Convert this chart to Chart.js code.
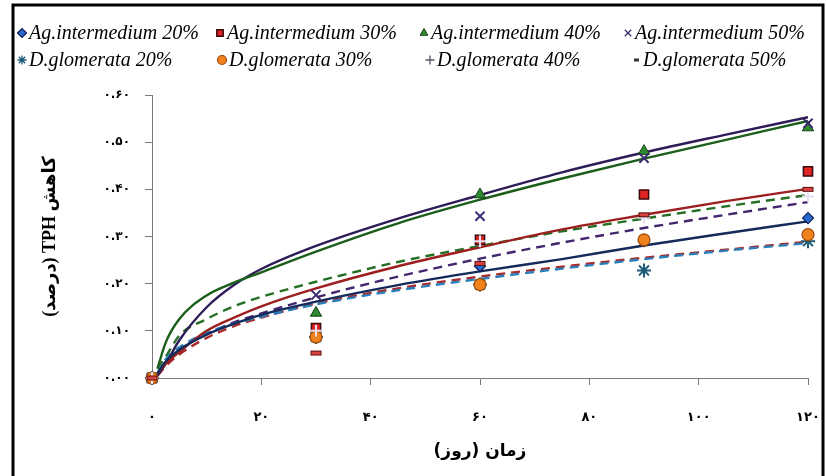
<!DOCTYPE html>
<html>
<head>
<meta charset="utf-8">
<script src="https://cdn.jsdelivr.net/npm/chart.js@4.4.1/dist/chart.umd.min.js"></script>
<style>
  html, body { margin: 0; padding: 0; background: #fff; }
  #wrap { width: 826px; height: 476px; }
</style>
</head>
<body>
<div id="wrap"><canvas id="chart" width="826" height="476"></canvas></div>
<script>
// days of sampling and the x positions where the fitted curves were read
const days = [0, 30, 60, 90, 120];
const trendDays = [1, 2.5, 5, 10, 15, 20, 30, 45, 60, 75, 90, 105, 120];

const names = ['Ag.intermedium 20%', 'Ag.intermedium 30%', 'Ag.intermedium 40%', 'Ag.intermedium 50%',
  'D.glomerata 20%', 'D.glomerata 30%', 'D.glomerata 40%', 'D.glomerata 50%'];

// measured points
const agInt20 = [0, 0.100, 0.237, 0.290, 0.339];
const agInt30 = [0, 0.106, 0.293, 0.389, 0.438];
const agInt40 = [0, 0.138, 0.389, 0.481, 0.531];
const agInt50 = [0, 0.176, 0.343, 0.466, 0.540];
const dGlo20 = [0, 0.087, 0.198, 0.228, 0.290];
const dGlo30 = [0, 0.087, 0.198, 0.293, 0.304];
const dGlo40 = [0, 0.100, 0.290, 0.340, 0.385];
const dGlo50 = [0, 0.053, 0.243, 0.346, 0.400];

// fitted trend curves
const agInt20Trend = [0.010, 0.035, 0.060, 0.092, 0.115, 0.134, 0.162, 0.197, 0.226, 0.252, 0.281, 0.307, 0.332];
const agInt30Trend = [0.010, 0.030, 0.055, 0.100, 0.128, 0.152, 0.190, 0.237, 0.277, 0.315, 0.346, 0.375, 0.401];
const agInt40Trend = [0.020, 0.075, 0.125, 0.175, 0.202, 0.224, 0.268, 0.328, 0.378, 0.423, 0.465, 0.505, 0.545];
const agInt50Trend = [0.005, 0.030, 0.080, 0.150, 0.197, 0.231, 0.280, 0.338, 0.388, 0.436, 0.478, 0.516, 0.553];
const dGlo20Trend = [0.010, 0.040, 0.065, 0.096, 0.115, 0.130, 0.156, 0.186, 0.210, 0.232, 0.252, 0.270, 0.286];
const dGlo30Trend = [0.005, 0.025, 0.050, 0.085, 0.110, 0.128, 0.158, 0.190, 0.215, 0.236, 0.255, 0.272, 0.289];
const dGlo40Trend = [0.020, 0.045, 0.090, 0.125, 0.152, 0.172, 0.204, 0.246, 0.280, 0.311, 0.338, 0.364, 0.388];
const dGlo50Trend = [0.010, 0.030, 0.060, 0.093, 0.118, 0.137, 0.171, 0.215, 0.253, 0.287, 0.318, 0.346, 0.373];

const xTickLabels = ['۰', '۲۰', '۴۰', '۶۰', '۸۰', '۱۰۰', '۱۲۰'];
const yTickLabels = ['۰.۰۰', '۰.۱۰', '۰.۲۰', '۰.۳۰', '۰.۴۰', '۰.۵۰', '۰.۶۰'];

const $chart = document.querySelector('#chart');
const context = $chart.getContext('2d');

// little red bar with dark edge for the "-" marker
const dashMark = document.createElement('canvas');
dashMark.width = 13;
dashMark.height = 7;
const dm = dashMark.getContext('2d');
dm.fillStyle = '#d94040';
dm.fillRect(1, 1, 11, 5);
dm.strokeStyle = '#5a1010';
dm.lineWidth = 1;
dm.strokeRect(1.5, 1.5, 10, 4);

const pointSets = [agInt20, agInt30, agInt40, agInt50, dGlo20, dGlo30, dGlo40, dGlo50];
const trendSets = [agInt20Trend, agInt30Trend, agInt40Trend, agInt50Trend, dGlo20Trend, dGlo30Trend, dGlo40Trend, dGlo50Trend];

const markers = [
  { pointStyle: 'rectRot', radius: 5.5, fill: '#2a6ad0', stroke: '#0c1a50', width: 1.2 },
  { pointStyle: 'rect', radius: 6.5, fill: '#e02424', stroke: '#3a0808', width: 1.5 },
  { pointStyle: 'triangle', radius: 6.5, fill: '#2f8a2f', stroke: '#154015', width: 1 },
  { pointStyle: 'crossRot', radius: 6.5, fill: '#3a2a6e', stroke: '#3a2a6e', width: 2 },
  { pointStyle: 'star', radius: 7, fill: '#1c5a78', stroke: '#1c5a78', width: 2 },
  { pointStyle: 'circle', radius: 6, fill: '#f0821e', stroke: '#a04a08', width: 1.2 },
  { pointStyle: 'cross', radius: 6, fill: '#e6e0f4', stroke: '#e6e0f4', width: 2 },
  { pointStyle: dashMark, radius: 6, fill: '#d94040', stroke: '#5a1010', width: 1 }
];
const legendPlusColor = '#555566';

const trendColors = ['#142a5a', '#9c1e1e', '#1a5e1a', '#2e1c58', '#2b80bc', '#a82a2a', '#256f25', '#44266e'];

const datasets = [];
trendSets.forEach((set, i) => {
  datasets.push({
    label: names[i] + ' trend',
    data: set.map((v, j) => ({ x: trendDays[j], y: v })),
    showLine: true,
    borderColor: trendColors[i],
    borderWidth: 2.4,
    borderDash: i >= 4 ? [9, 6] : [],
    pointRadius: 0,
    cubicInterpolationMode: 'monotone',
    order: 20
  });
});
pointSets.forEach((set, i) => {
  const m = markers[i];
  datasets.push({
    label: names[i],
    data: set.map((v, j) => ({ x: days[j], y: v })),
    showLine: false,
    pointStyle: m.pointStyle,
    pointRadius: m.radius,
    backgroundColor: m.fill,
    borderColor: m.stroke,
    borderWidth: m.width,
    clip: false,
    order: 8 - i
  });
});

// positions of the legend entries, two rows of four
const legendPos = [
  [22, 33], [220, 33], [424, 33], [628, 33],
  [22, 60], [222, 60], [430, 60], [636, 60]
];

const framePlugin = {
  id: 'frame',
  afterDraw(chart) {
    const ctx = chart.ctx;
    ctx.save();
    ctx.strokeStyle = '#000';
    ctx.lineWidth = 3;
    ctx.strokeRect(13, 5, 810, 490);

    ctx.font = 'italic 20px "Liberation Serif", "DejaVu Serif", serif';
    ctx.textBaseline = 'middle';
    ctx.textAlign = 'left';
    names.forEach((name, i) => {
      const [x, y] = legendPos[i];
      const m = markers[i];
      ctx.fillStyle = i === 6 ? legendPlusColor : m.fill;
      ctx.strokeStyle = i === 6 ? legendPlusColor : m.stroke;
      ctx.lineWidth = i === 3 || i === 4 || i === 6 ? 1.3 : m.width;
      if (i === 7) {
        ctx.fillStyle = '#333';
        ctx.fillRect(x - 2, y - 1.5, 5, 3);
      } else if (Chart.helpers && Chart.helpers.drawPoint) {
        Chart.helpers.drawPoint(ctx, { pointStyle: m.pointStyle, radius: 4.5, rotation: 0, borderWidth: ctx.lineWidth }, x, y);
      }
      ctx.fillStyle = '#000';
      ctx.fillText(name, x + 7, y + 1);
    });
    ctx.restore();
  }
};

new Chart(context, {
  type: 'scatter',
  data: { datasets },
  options: {
    responsive: false,
    animation: false,
    layout: { padding: { left: 0, right: 18, top: 95, bottom: 0 } },
    plugins: {
      legend: { display: false },
      tooltip: { enabled: false }
    },
    scales: {
      x: {
        type: 'linear',
        min: 0,
        max: 120,
        afterFit(scale) {
          scale.height = 98;
          scale.paddingLeft = 0;
          scale.paddingRight = 0;
        },
        border: { color: '#7a7a7a', width: 1 },
        grid: { drawOnChartArea: false, drawTicks: true, tickLength: 7, color: '#7a7a7a' },
        ticks: {
          stepSize: 20,
          padding: 25,
          color: '#000',
          font: { family: '"DejaVu Sans"', size: 13, weight: 'bold' },
          maxRotation: 0,
          callback: (v, i) => xTickLabels[i]
        },
        title: {
          display: true,
          text: '\u202Bزمان (روز)\u202C',
          color: '#000',
          font: { family: '"DejaVu Sans"', size: 17, weight: 'bold' },
          padding: { top: 0, bottom: 14 }
        }
      },
      y: {
        type: 'linear',
        min: 0,
        max: 0.6,
        afterFit(scale) { scale.width = 152; },
        border: { color: '#7a7a7a', width: 1 },
        grid: { drawOnChartArea: false, drawTicks: true, tickLength: 7, color: '#7a7a7a' },
        ticks: {
          stepSize: 0.1,
          padding: 15,
          color: '#000',
          font: { family: '"DejaVu Sans"', size: 12, weight: 'bold' },
          callback: (v, i) => yTickLabels[i]
        },
        title: {
          display: true,
          text: '\u202Bکاهش TPH (درصد)\u202C',
          color: '#000',
          font: { family: '"Liberation Serif", "DejaVu Sans"', size: 18, weight: 'bold' },
          padding: { top: 40, bottom: 0 }
        }
      }
    }
  },
  plugins: [framePlugin]
});
</script>
</body>
</html>
